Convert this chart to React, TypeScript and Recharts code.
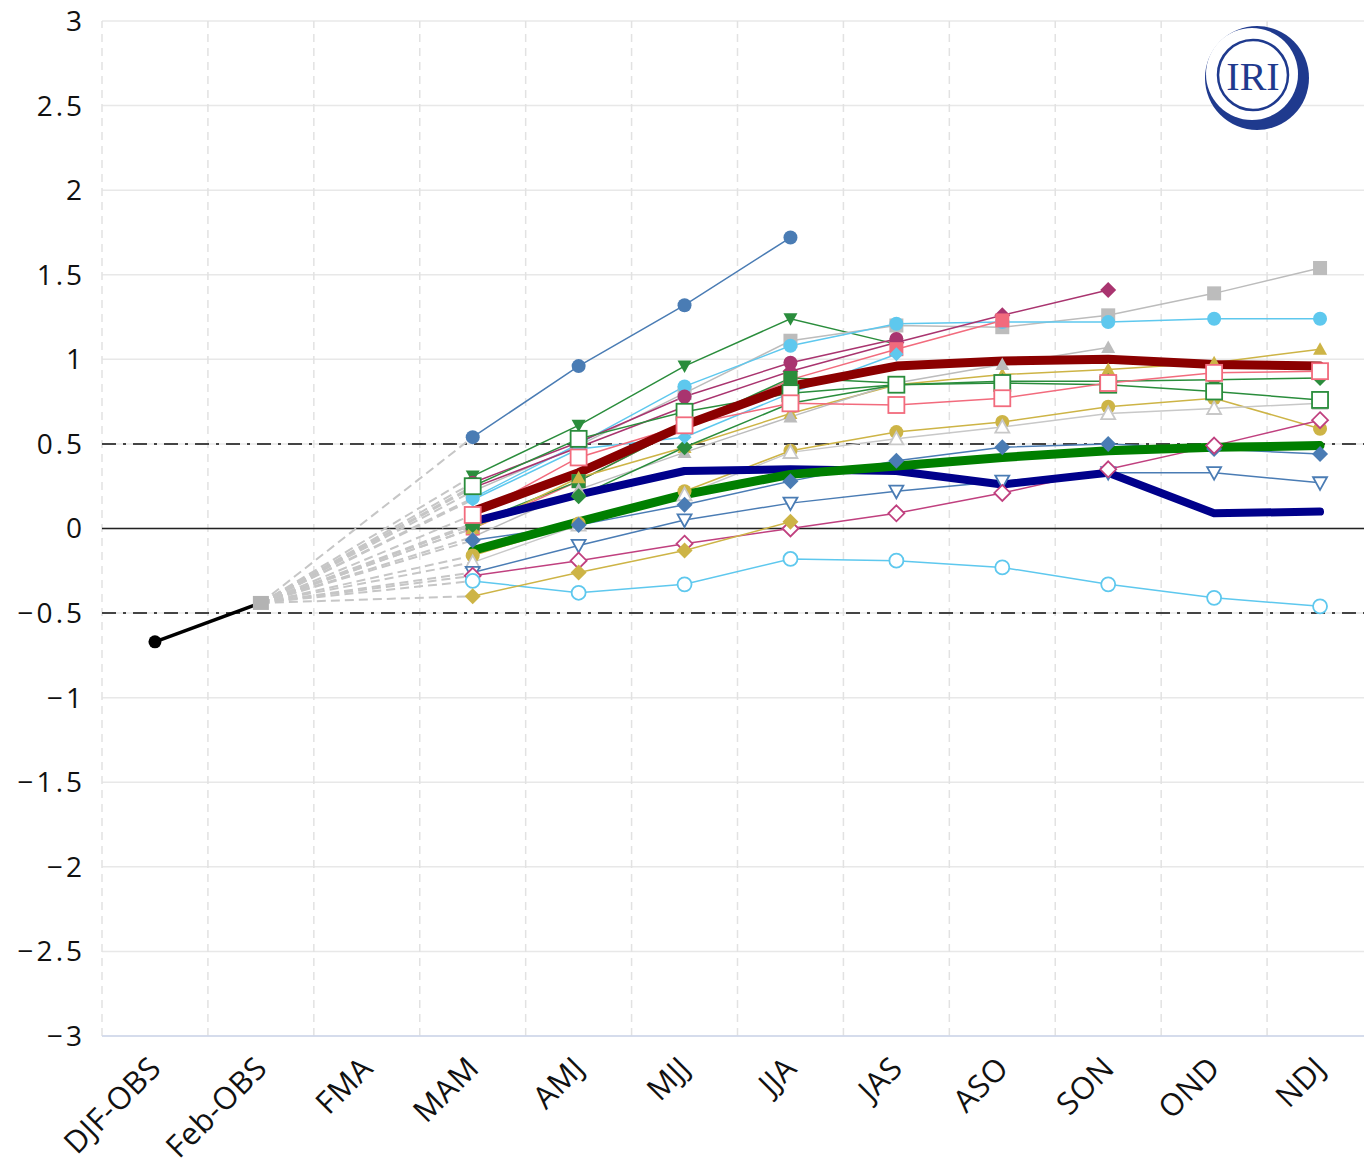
import React from 'react';
import { LineChart, Line, XAxis, YAxis, CartesianGrid, ReferenceLine } from 'recharts';

// season labels along the bottom
const categories = ['DJF-OBS', 'Feb-OBS', 'FMA', 'MAM', 'AMJ', 'MJJ', 'JJA', 'JAS', 'ASO', 'SON', 'OND', 'NDJ'];
const yTicks = [-3, -2.5, -2, -1.5, -1, -0.5, 0, 0.5, 1, 1.5, 2, 2.5, 3];

// observations: DJF-OBS, Feb-OBS
const observed = [-0.67, -0.44];

// model forecasts, first value is MAM
const blueCircle = [0.54, 0.96, 1.32, 1.72];
const greenTriDown = [0.31, 0.61, 0.96, 1.24, 1.09];
const skyCircle = [0.18, 0.5, 0.84, 1.08, 1.21, 1.22, 1.22, 1.24, 1.24];
const graySquare = [0.22, 0.49, 0.8, 1.11, 1.2, 1.19, 1.26, 1.39, 1.54];
const magentaCircle = [0.27, 0.51, 0.78, 0.98, 1.12];
const magentaDiamond = [0.24, 0.48, 0.72, 0.93, 1.1, 1.26, 1.41];
const pinkSquare = [0.0, 0.28, 0.6, 0.88, 1.06, 1.23];
const greenSquare = [0.03, 0.28, 0.6, 0.89, 0.86];
const greenOpenSquare = [0.25, 0.53, 0.69, 0.8, 0.85, 0.86, 0.85, 0.81, 0.76];
const pinkOpenSquare = [0.08, 0.42, 0.61, 0.74, 0.73, 0.77, 0.86, 0.92, 0.93];
const goldTriangle = [0.0, 0.3, 0.48, 0.68, 0.85, 0.91, 0.94, 0.98, 1.06];
const grayTriangle = [-0.05, 0.23, 0.45, 0.66, 0.86, 0.97, 1.07];
const greenDiamond = [0.02, 0.19, 0.48, 0.74, 0.85, 0.87, 0.87, 0.88, 0.89];
const skyDiamond = [0.17, 0.47, 0.54, 0.8, 1.03];
const goldCircle = [-0.16, 0.03, 0.22, 0.46, 0.57, 0.63, 0.72, 0.77, 0.59];
const grayOpenTriangle = [-0.2, 0.02, 0.2, 0.45, 0.53, 0.6, 0.68, 0.71, 0.74];
const blueDiamond = [-0.07, 0.02, 0.14, 0.28, 0.4, 0.48, 0.5, 0.47, 0.44];
const blueOpenTriDown = [-0.26, -0.1, 0.05, 0.15, 0.22, 0.28, 0.33, 0.33, 0.27];
const magentaOpenDiamond = [-0.28, -0.19, -0.09, 0.0, 0.09, 0.21, 0.35, 0.49, 0.64];
const skyOpenCircle = [-0.31, -0.38, -0.33, -0.18, -0.19, -0.23, -0.33, -0.41, -0.46];
const goldDiamond = [-0.4, -0.26, -0.13, 0.04];

// averages (thick lines)
const navyAvg = [0.04, 0.2, 0.34, 0.35, 0.34, 0.26, 0.33, 0.09, 0.1];
const greenAvg = [-0.13, 0.04, 0.2, 0.32, 0.37, 0.42, 0.46, 0.48, 0.49];
const redAvg = [0.1, 0.33, 0.61, 0.84, 0.96, 0.99, 1.0, 0.97, 0.96];

const FIRST = categories.indexOf('MAM');
const OBS_LAST = categories.indexOf('Feb-OBS');
const boundaries = categories.map((_, i) => i - 0.5).concat([categories.length - 0.5]);

const BLUE = '#4a7cb4';
const GREEN = '#2a8d3c';
const SKY = '#5ec8ee';
const GRAY = '#bcbcbc';
const MAGENTA = '#a9346f';
const PINK = '#f26b7d';
const GOLD = '#cdb446';

type Shape = 'circle' | 'square' | 'diamond' | 'triangle' | 'triangleDown';

const models: { name: string; values: number[]; color: string; shape: Shape; open?: boolean; size?: number }[] = [
  { name: 'blueCircle', values: blueCircle, color: BLUE, shape: 'circle' },
  { name: 'greenTriDown', values: greenTriDown, color: GREEN, shape: 'triangleDown' },
  { name: 'graySquare', values: graySquare, color: GRAY, shape: 'square' },
  { name: 'skyCircle', values: skyCircle, color: SKY, shape: 'circle' },
  { name: 'magentaCircle', values: magentaCircle, color: MAGENTA, shape: 'circle' },
  { name: 'magentaDiamond', values: magentaDiamond, color: MAGENTA, shape: 'diamond' },
  { name: 'pinkSquare', values: pinkSquare, color: PINK, shape: 'square' },
  { name: 'greenSquare', values: greenSquare, color: GREEN, shape: 'square' },
  { name: 'goldTriangle', values: goldTriangle, color: GOLD, shape: 'triangle' },
  { name: 'grayTriangle', values: grayTriangle, color: GRAY, shape: 'triangle' },
  { name: 'greenDiamond', values: greenDiamond, color: GREEN, shape: 'diamond' },
  { name: 'skyDiamond', values: skyDiamond, color: SKY, shape: 'diamond', size: 6 },
  { name: 'goldCircle', values: goldCircle, color: GOLD, shape: 'circle' },
  { name: 'grayOpenTriangle', values: grayOpenTriangle, color: '#c8c8c8', shape: 'triangle', open: true },
  { name: 'blueDiamond', values: blueDiamond, color: BLUE, shape: 'diamond' },
  { name: 'blueOpenTriDown', values: blueOpenTriDown, color: BLUE, shape: 'triangleDown', open: true },
  { name: 'magentaOpenDiamond', values: magentaOpenDiamond, color: '#c0407f', shape: 'diamond', open: true },
  { name: 'skyOpenCircle', values: skyOpenCircle, color: SKY, shape: 'circle', open: true },
  { name: 'goldDiamond', values: goldDiamond, color: GOLD, shape: 'diamond' },
  { name: 'greenOpenSquare', values: greenOpenSquare, color: GREEN, shape: 'square', open: true, size: 8 },
  { name: 'pinkOpenSquare', values: pinkOpenSquare, color: PINK, shape: 'square', open: true, size: 8 },
];

const averages = [
  { name: 'navyAvg', values: navyAvg, color: '#00008b', width: 8 },
  { name: 'greenAvg', values: greenAvg, color: '#007f00', width: 9 },
  { name: 'redAvg', values: redAvg, color: '#8b0000', width: 9 },
];

const toPoints = (values: number[]) => values.map((y, i) => ({ x: FIRST + i, y }));
const obsPoints = observed.map((y, i) => ({ x: i, y }));
const connector = (values: number[]) => [
  { x: OBS_LAST, y: observed[observed.length - 1] },
  { x: FIRST, y: values[0] },
];

const drawShape = (shape: Shape, cx: number, cy: number, r: number, color: string, open: boolean, key: any) => {
  const fill = open ? '#ffffff' : color;
  const common = { fill, stroke: color, strokeWidth: open ? 1.8 : 0 };
  switch (shape) {
    case 'circle':
      return <circle key={key} cx={cx} cy={cy} r={r} {...common} />;
    case 'square':
      return <rect key={key} x={cx - r} y={cy - r} width={2 * r} height={2 * r} {...common} />;
    case 'diamond':
      return <polygon key={key} points={`${cx},${cy - r - 1} ${cx + r + 1},${cy} ${cx},${cy + r + 1} ${cx - r - 1},${cy}`} {...common} />;
    case 'triangle':
      return <polygon key={key} points={`${cx},${cy - r} ${cx + r},${cy + r * 0.8} ${cx - r},${cy + r * 0.8}`} {...common} />;
    default:
      return <polygon key={key} points={`${cx},${cy + r} ${cx + r},${cy - r * 0.8} ${cx - r},${cy - r * 0.8}`} {...common} />;
  }
};

const makeDot = (shape: Shape, color: string, open: boolean, size: number) => (props: any) => {
  const { cx, cy, index } = props;
  if (cx == null || cy == null) return <g key={index} />;
  return drawShape(shape, cx, cy, size, color, open, index);
};

const obsDot = (props: any) => {
  const { cx, cy, index } = props;
  if (cx == null || cy == null) return <g key={index} />;
  if (index === 0) return <circle key={index} cx={cx} cy={cy} r={6.5} fill="#000" />;
  return <rect key={index} x={cx - 8} y={cy - 7} width={16} height={14} fill="#b3b3b3" />;
};

const XTick = (props: any) => {
  const { x, y, payload } = props;
  const bx = x + 8;
  const by = y + 32;
  return (
    <text
      x={bx}
      y={by}
      transform={`rotate(-45 ${bx} ${by})`}
      textAnchor="end"
      fill="#111"
      fontSize={31}
      fontFamily="Open Sans"
      letterSpacing={0.5}
    >
      {categories[payload.value]}
    </text>
  );
};

const Logo = () => (
  <svg width={130} height={130} style={{ position: 'absolute', left: 1193, top: 13 }}>
    <circle cx={64} cy={65} r={52} fill="#1f3a8e" />
    <circle cx={59} cy={61} r={46} fill="#ffffff" />
    <circle cx={60} cy={62} r={35} fill="none" stroke="#1f3a8e" strokeWidth={2.5} />
    <text x={60} y={77} textAnchor="middle" fontFamily="Liberation Serif" fontSize={40} fill="#1f3a8e">
      IRI
    </text>
  </svg>
);

export default function App() {
  return (
    <div style={{ position: 'absolute', left: 0, top: 0, width: 1364, height: 1168, overflow: 'hidden', background: '#fff' }}>
      <LineChart width={1380} height={1168} margin={{ top: 21, right: 7, left: 0, bottom: 0 }}>
        <CartesianGrid vertical={false} stroke="#e8e8e8" strokeWidth={1.5} />
        {boundaries.map((b) => (
          <ReferenceLine key={`v${b}`} x={b} stroke="#e2e2e2" strokeWidth={1.5} strokeDasharray="8 6" />
        ))}
        <XAxis
          dataKey="x"
          type="number"
          domain={[-0.5, categories.length - 0.5]}
          ticks={categories.map((_, i) => i)}
          allowDataOverflow
          height={132}
          axisLine={{ stroke: '#ccd6eb', strokeWidth: 1.5 }}
          tickLine={false}
          tickSize={0}
          tick={<XTick />}
          interval={0}
        />
        <YAxis
          type="number"
          domain={[-3, 3]}
          ticks={yTicks}
          width={102}
          axisLine={false}
          tickLine={false}
          tickSize={0}
          tickMargin={17}
          tick={{ fill: '#111', fontSize: 28, fontFamily: 'Open Sans', letterSpacing: 3 }}
          tickFormatter={(v: number) => String(v).replace('-', '\u2212')}
          interval={0}
        />
        <ReferenceLine y={0.5} stroke="#444" strokeWidth={2} strokeDasharray="14 7 3 7" />
        <ReferenceLine y={-0.5} stroke="#444" strokeWidth={2} strokeDasharray="14 7 3 7" />
        <ReferenceLine y={0} stroke="#222" strokeWidth={1.5} />

        {models.map((m) => (
          <Line
            key={`c-${m.name}`}
            data={connector(m.values)}
            dataKey="y"
            stroke="#c6c6c6"
            strokeWidth={2}
            strokeDasharray="9 5"
            dot={false}
            isAnimationActive={false}
          />
        ))}

        <Line
          data={obsPoints}
          dataKey="y"
          stroke="#000"
          strokeWidth={3.5}
          dot={obsDot}
          isAnimationActive={false}
        />

        {models.map((m) => (
          <Line
            key={m.name}
            data={toPoints(m.values)}
            dataKey="y"
            stroke={m.color}
            strokeWidth={1.5}
            dot={makeDot(m.shape, m.color, !!m.open, m.size ?? 7)}
            isAnimationActive={false}
          />
        ))}

        {averages.map((a) => (
          <Line
            key={a.name}
            data={toPoints(a.values)}
            dataKey="y"
            stroke={a.color}
            strokeWidth={a.width}
            strokeLinecap="round"
            strokeLinejoin="round"
            dot={false}
            isAnimationActive={false}
          />
        ))}
      </LineChart>
      <Logo />
    </div>
  );
}
